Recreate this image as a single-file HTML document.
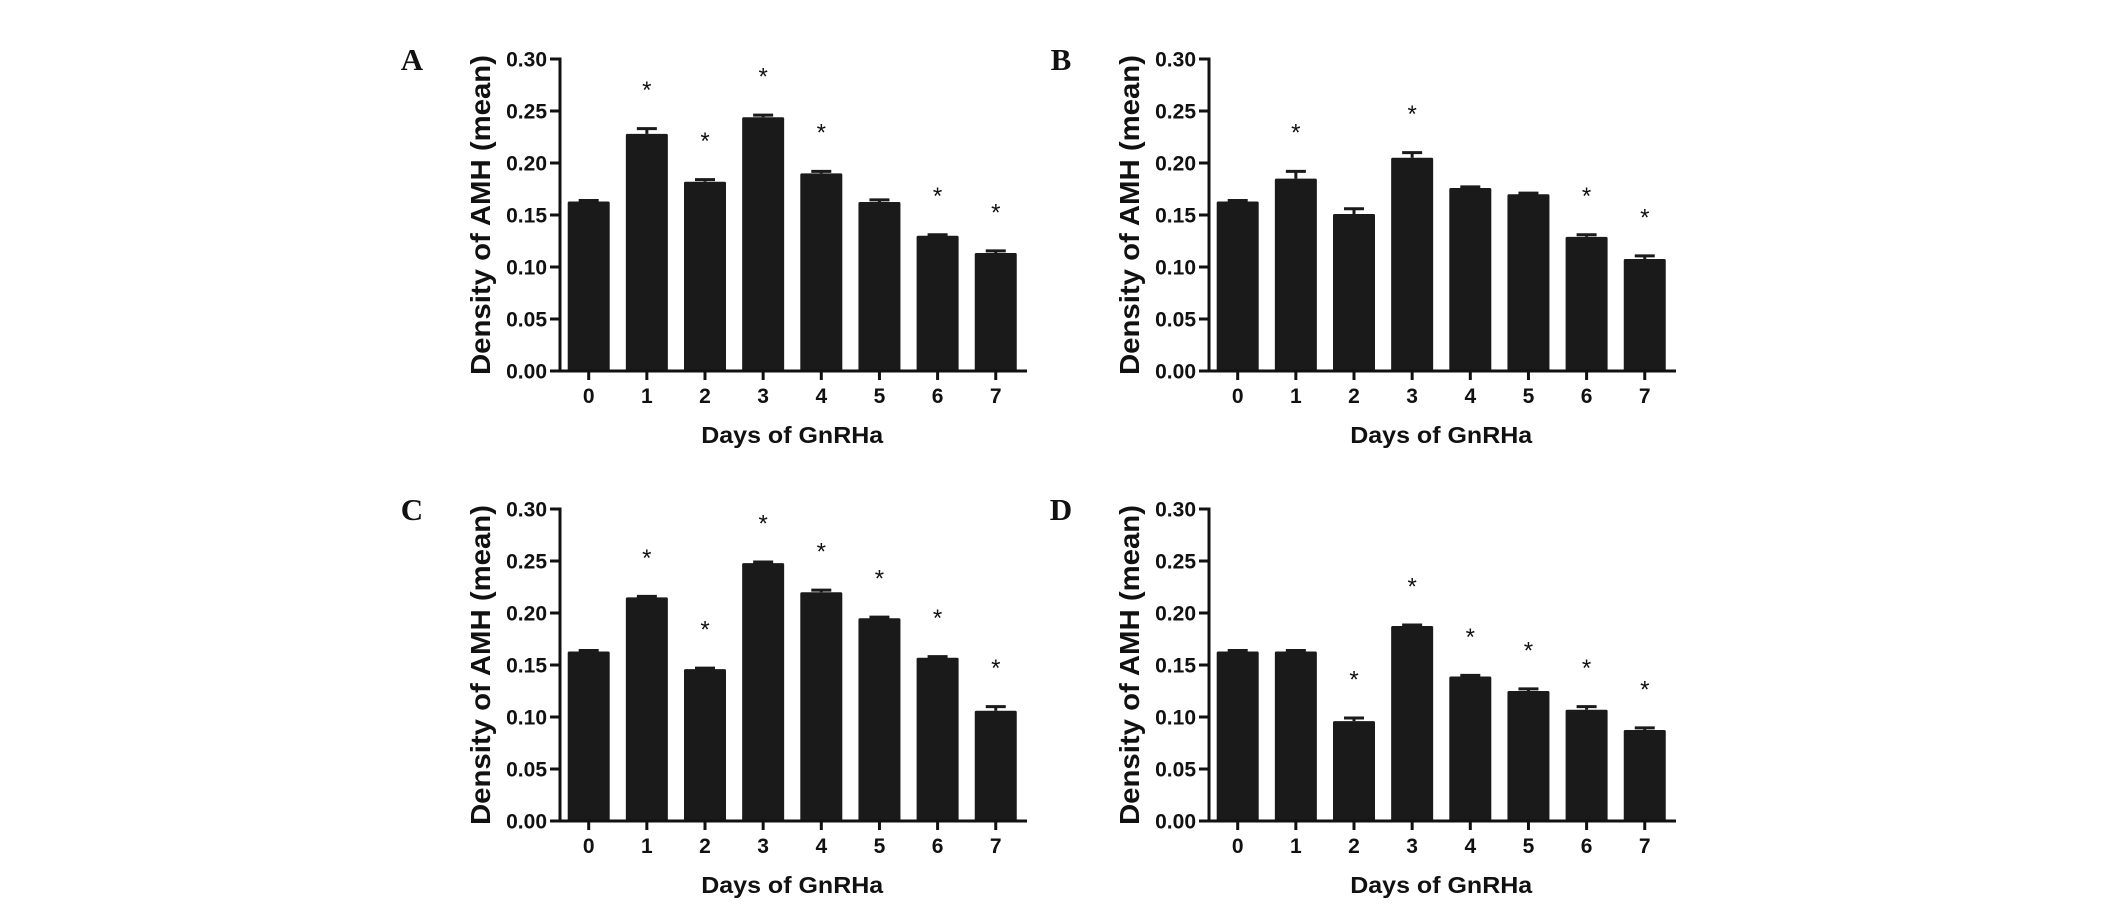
<!DOCTYPE html>
<html><head><meta charset="utf-8"><style>
html,body{margin:0;padding:0;background:#fff;}
svg{display:block;}
text{font-family:"Liberation Sans",Arial,sans-serif;font-weight:bold;fill:#111;}
.letter{font-family:"Liberation Serif","Times New Roman",serif;font-size:31px;}
</style></head><body>
<svg id="fig" width="2126" height="907" viewBox="0 0 2126 907" xmlns="http://www.w3.org/2000/svg"></svg>
<script>
const categories = ["0","1","2","3","4","5","6","7"];
const yTicks = [0, 0.05, 0.10, 0.15, 0.20, 0.25, 0.30];
const yTickLabels = ["0.00","0.05","0.10","0.15","0.20","0.25","0.30"];
const valuesA = [0.163, 0.228, 0.182, 0.244, 0.190, 0.1625, 0.130, 0.1135];
const errA    = [0.001, 0.005, 0.002, 0.002, 0.002, 0.002, 0.001, 0.002];
const sigA    = [0, 1, 1, 1, 1, 0, 1, 1];
const valuesB = [0.163, 0.185, 0.151, 0.205, 0.176, 0.170, 0.129, 0.1077];
const errB    = [0.001, 0.007, 0.005, 0.005, 0.001, 0.001, 0.002, 0.003];
const sigB    = [0, 1, 0, 1, 0, 0, 1, 1];
const valuesC = [0.163, 0.215, 0.146, 0.248, 0.220, 0.195, 0.157, 0.106];
const errC    = [0.001, 0.001, 0.001, 0.001, 0.002, 0.001, 0.001, 0.004];
const sigC    = [0, 1, 1, 1, 1, 1, 1, 1];
const valuesD = [0.163, 0.163, 0.096, 0.1875, 0.139, 0.125, 0.107, 0.0875];
const errD    = [0.001, 0.001, 0.003, 0.001, 0.001, 0.002, 0.003, 0.002];
const sigD    = [0, 0, 1, 1, 1, 1, 1, 1];

const NS = "http://www.w3.org/2000/svg";
const svg = document.getElementById('fig');
function el(tag, attrs, parent){
  const e = document.createElementNS(NS, tag);
  for (const k in attrs) e.setAttribute(k, attrs[k]);
  (parent||svg).appendChild(e);
  return e;
}
const panels = [
  {id:"a", letter:"A", x0:560,  base:371, vals:valuesA, errs:errA, sig:sigA},
  {id:"b", letter:"B", x0:1209, base:371, vals:valuesB, errs:errB, sig:sigB},
  {id:"c", letter:"C", x0:560,  base:821, vals:valuesC, errs:errC, sig:sigC},
  {id:"d", letter:"D", x0:1209, base:821, vals:valuesD, errs:errD, sig:sigD}
];
const PXPERUNIT = 1040, STEP = 58.15, BW = 42;
panels.forEach(p => {
  const g = el('g', {});
  
  
  const yScale = v => p.base - v * PXPERUNIT;
  const xScale = i => p.x0 + 28.7 + i * STEP;
  const lt = el('text', {x: p.x0 - 148, y: p.base - 312, 'text-anchor':'middle', class:'letter', dy:'0.35em'}, g);
  lt.textContent = p.letter;
  
  
  // bars
  p.vals.forEach((v, i) => {
    const cx = xScale(i);
    const top = yScale(v);
    const e = yScale(v + p.errs[i]);
    const bar = el('rect', {x: cx - BW/2, y: top, width: BW, height: p.base - top, rx: 1.5, fill:'#1a1a1a'}, g);
    
    
    const eb = el('path', {d:`M${cx} ${top} V${e} M${cx-10} ${e} H${cx+10}`, stroke:'#1a1a1a', 'stroke-width':3, fill:'none'}, g);
    
    
    if (p.sig[i]) {
      const st = el('text', {x: cx, y: yScale(v + p.errs[i] + 0.04) + 11, 'text-anchor':'middle', 'font-size':'24px', style:'font-weight:normal'}, g);
      st.textContent = '*';
      
      
    }
    const tk = el('line', {x1:cx, x2:cx, y1:p.base, y2:p.base + 9, stroke:'#111', 'stroke-width':3}, g);
    
    
    const tl = el('text', {x: cx, y: p.base + 32, 'text-anchor':'middle', 'font-size':'21px'}, g);
    tl.textContent = categories[i];
    
    
  });
  // axes
  const ya = el('line', {x1:p.x0, x2:p.x0, y1:yScale(0.30) - 1.5, y2:p.base + 1.5, stroke:'#111', 'stroke-width':3}, g);
  
  
  const xa = el('line', {x1:p.x0 - 10, x2:p.x0 + 467, y1:p.base, y2:p.base, stroke:'#111', 'stroke-width':3}, g);
  
  
  yTicks.forEach((t, k) => {
    const y = yScale(t);
    const tk = el('line', {x1:p.x0 - 10, x2:p.x0, y1:y, y2:y, stroke:'#111', 'stroke-width':3}, g);
    
    
    const tl = el('text', {x:p.x0 - 13, y:y + 7.5, 'text-anchor':'end', 'font-size':'21px'}, g);
    tl.textContent = yTickLabels[k];
    
    
  });
  const yt = el('text', {x:0, y:0, 'text-anchor':'middle', 'font-size':'28px', textLength:320, lengthAdjust:'spacingAndGlyphs',
    transform:`translate(${p.x0 - 70},${p.base - 156}) rotate(-90)`}, g);
  yt.textContent = 'Density of AMH (mean)';
  
  
  const xt = el('text', {x:(xScale(0) + xScale(7)) / 2, y:p.base + 72, 'text-anchor':'middle', 'font-size':'23px', textLength:182, lengthAdjust:'spacingAndGlyphs'}, g);
  xt.textContent = 'Days of GnRHa';
  
  
});
</script>
</body></html>
